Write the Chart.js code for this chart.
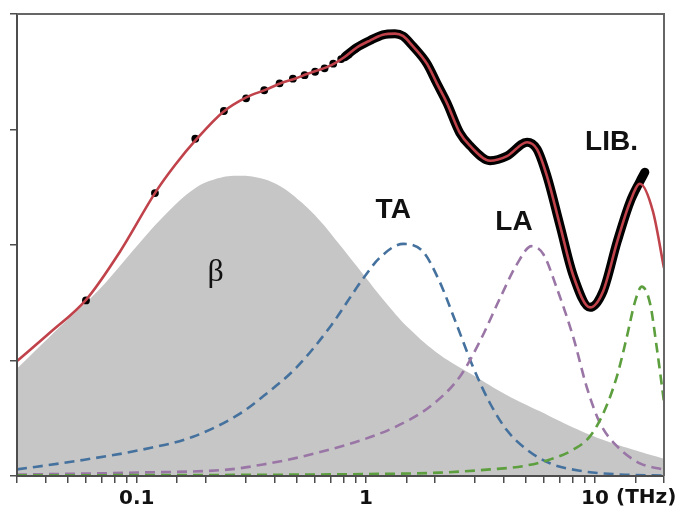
<!DOCTYPE html>
<html>
<head>
<meta charset="utf-8">
<title>Susceptibility spectrum</title>
<script src="https://cdn.jsdelivr.net/npm/chart.js@4/dist/chart.umd.min.js"></script>
<style>
  html, body { margin: 0; padding: 0; background: #fff; }
  canvas { display: block; }
</style>
</head>
<body>
<canvas id="spectrum" width="683" height="515"></canvas>
<script>
// Frequency axis in THz, amplitudes in arbitrary units (0..4)

// beta relaxation (grey area)
const betaFreq   = [0.03, 0.0461, 0.0689, 0.103, 0.139, 0.179, 0.219, 0.273, 0.344, 0.421, 0.515, 0.63, 0.77, 0.97, 1.235, 1.556, 2.10, 2.93, 4.13, 5.75, 8.02, 11.28, 15.7, 20];
const betaValues = [0.93, 1.29, 1.62, 2.02, 2.30, 2.49, 2.57, 2.60, 2.58, 2.51, 2.38, 2.21, 2.00, 1.75, 1.49, 1.27, 1.05, 0.875, 0.70, 0.56, 0.42, 0.30, 0.21, 0.15];

// transverse acoustic band
const taFreq   = [0.03, 0.0545, 0.1065, 0.176, 0.282, 0.356, 0.498, 0.697, 0.973, 1.15, 1.455, 1.78, 2.10, 2.49, 2.94, 3.48, 4.11, 5.03, 6.36, 8.6, 12.44, 20];
const taValues = [0.057, 0.13, 0.23, 0.34, 0.54, 0.69, 0.94, 1.29, 1.71, 1.89, 2.01, 1.94, 1.68, 1.31, 0.94, 0.63, 0.40, 0.23, 0.11, 0.045, 0.015, 0.004];

// longitudinal acoustic band
const laFreq   = [0.03, 0.1, 0.255, 0.356, 0.498, 0.697, 0.973, 1.36, 1.90, 2.57, 3.15, 3.85, 4.55, 5.29, 5.95, 6.8, 8.04, 9.2, 10.5, 12.44, 15.7, 20];
const laValues = [0.012, 0.03, 0.057, 0.10, 0.157, 0.23, 0.315, 0.43, 0.60, 0.86, 1.17, 1.54, 1.83, 1.99, 1.92, 1.63, 1.20, 0.77, 0.46, 0.26, 0.11, 0.055];

// librational band
const libFreq   = [0.03, 0.3, 1.0, 2.10, 3.48, 4.86, 6.36, 8.04, 9.5, 10.87, 12.44, 13.75, 14.95, 16.0, 17.4, 18.6, 20];
const libValues = [0.006, 0.01, 0.017, 0.029, 0.057, 0.086, 0.143, 0.229, 0.343, 0.543, 0.858, 1.20, 1.51, 1.64, 1.49, 1.11, 0.64];

// total fit
const fitFreq   = [0.03, 0.0417, 0.0603, 0.0843, 0.121, 0.1466, 0.183, 0.2374, 0.302, 0.366, 0.430, 0.490, 0.553, 0.611, 0.676, 0.740, 0.81, 0.913, 1.041, 1.186, 1.339, 1.45, 1.605, 1.846, 2.04, 2.257, 2.57, 2.845, 3.48, 4.13, 5.05, 5.58, 6.16, 7.03, 8.02, 9.51, 10.85, 12.5, 14.2, 15.7, 17.9, 20];
const fitValues = [0.995, 1.24, 1.53, 1.94, 2.46, 2.69, 2.92, 3.15, 3.28, 3.345, 3.405, 3.44, 3.48, 3.51, 3.54, 3.58, 3.63, 3.71, 3.77, 3.82, 3.83, 3.81, 3.72, 3.57, 3.40, 3.23, 2.97, 2.86, 2.73, 2.77, 2.89, 2.83, 2.60, 2.17, 1.74, 1.46, 1.60, 2.03, 2.37, 2.53, 2.29, 1.80];

// measured points, low frequency (separate dots)
const dotFreq   = [0.06, 0.12, 0.18, 0.24, 0.30, 0.36, 0.42, 0.48, 0.54, 0.60, 0.66, 0.72, 0.78, 0.84, 0.90];
const dotValues = [1.52, 2.45, 2.92, 3.16, 3.27, 3.34, 3.40, 3.44, 3.47, 3.50, 3.53, 3.57, 3.61, 3.65, 3.70];

// measured points, high frequency (merged into a band)
const bandFreq   = [0.81, 0.913, 1.041, 1.186, 1.339, 1.45, 1.605, 1.846, 2.04, 2.257, 2.57, 2.845, 3.48, 4.13, 5.05, 5.58, 6.16, 7.03, 8.02, 9.51, 10.85, 12.5, 14.2, 15.7, 16.5];
const bandValues = [3.63, 3.71, 3.77, 3.82, 3.83, 3.81, 3.72, 3.57, 3.40, 3.23, 2.97, 2.86, 2.73, 2.77, 2.89, 2.83, 2.60, 2.17, 1.74, 1.46, 1.60, 2.03, 2.37, 2.55, 2.63];

// x tick labels (decades) and peak labels
const decadeLabels = [0.1, 1, 10];
const unitLabel = '(THz)';
const peakLabels = [
  { text: '\u03b2',  x: 0.221, y: 1.76, font: '32px "Liberation Serif"' },
  { text: 'TA',   x: 1.316, y: 2.30, font: 'bold 28px "Liberation Sans"' },
  { text: 'LA',   x: 4.43,  y: 2.20, font: 'bold 28px "Liberation Sans"' },
  { text: 'LIB.', x: 11.8,  y: 2.89, font: 'bold 28px "Liberation Sans"' }
];

const pts = (xs, ys) => xs.map((x, i) => ({ x: x, y: ys[i] }));

const AXIS = '#4d4d4d';
const tickFont = { family: '"DejaVu Sans"', size: 20, weight: 'bold' };

// closes the box on the top and right sides
const framePlugin = {
  id: 'frame',
  afterDraw(chart) {
    const { ctx, chartArea: a } = chart;
    ctx.save();
    ctx.strokeStyle = '#666';
    ctx.lineWidth = 2;
    ctx.beginPath();
    ctx.moveTo(a.left, a.top);
    ctx.lineTo(a.right, a.top);
    ctx.lineTo(a.right, a.bottom);
    ctx.stroke();
    ctx.restore();
  }
};

// peak names and the unit after the last decade label
const labelPlugin = {
  id: 'peakLabels',
  afterDatasetsDraw(chart) {
    const { ctx, scales } = chart;
    ctx.save();
    ctx.fillStyle = '#111';
    ctx.textAlign = 'center';
    ctx.textBaseline = 'middle';
    peakLabels.forEach(l => {
      ctx.font = l.font;
      ctx.fillText(l.text, scales.x.getPixelForValue(l.x), scales.y.getPixelForValue(l.y));
    });
    ctx.font = 'bold 20px "DejaVu Sans"';
    ctx.textAlign = 'left';
    ctx.textBaseline = 'top';
    ctx.fillText(unitLabel, scales.x.getPixelForValue(10) + 21, scales.x.top + 7 + 5);
    ctx.restore();
  }
};

new Chart(document.getElementById('spectrum'), {
  type: 'line',
  data: {
    datasets: [
      {
        label: 'fit',
        data: pts(fitFreq, fitValues),
        borderColor: '#c0424a',
        borderWidth: 2.6,
        pointRadius: 0,
        cubicInterpolationMode: 'monotone'
      },
      {
        label: 'measured',
        data: pts(dotFreq, dotValues),
        showLine: false,
        pointRadius: 3.9,
        pointBackgroundColor: '#000',
        pointBorderWidth: 0
      },
      {
        label: 'measured band',
        data: pts(bandFreq, bandValues),
        borderColor: '#000',
        borderWidth: 9,
        borderCapStyle: 'round',
        borderJoinStyle: 'round',
        pointRadius: 0,
        cubicInterpolationMode: 'monotone'
      },
      {
        label: 'LIB',
        data: pts(libFreq, libValues),
        borderColor: '#5d9f3e',
        borderWidth: 2.6,
        borderDash: [10, 6],
        pointRadius: 0,
        cubicInterpolationMode: 'monotone'
      },
      {
        label: 'LA',
        data: pts(laFreq, laValues),
        borderColor: '#9a76a6',
        borderWidth: 2.6,
        borderDash: [10, 6],
        pointRadius: 0,
        cubicInterpolationMode: 'monotone'
      },
      {
        label: 'TA',
        data: pts(taFreq, taValues),
        borderColor: '#44719d',
        borderWidth: 2.6,
        borderDash: [10, 6],
        pointRadius: 0,
        cubicInterpolationMode: 'monotone'
      },
      {
        label: 'beta',
        data: pts(betaFreq, betaValues),
        borderWidth: 0,
        borderColor: 'rgba(0,0,0,0)',
        backgroundColor: '#c6c6c6',
        fill: 'origin',
        pointRadius: 0,
        tension: 0.4
      }
    ]
  },
  options: {
    responsive: false,
    animation: false,
    events: [],
    layout: { padding: { left: 10, top: 14, right: 19, bottom: 0 } },
    plugins: {
      legend: { display: false },
      tooltip: { enabled: false }
    },
    scales: {
      x: {
        type: 'logarithmic',
        min: 0.03,
        max: 20,
        grid: {
          drawOnChartArea: false,
          drawTicks: true,
          tickLength: 7,
          color: AXIS,
          lineWidth: 1.5
        },
        border: { display: true, color: AXIS, width: 2, z: 1 },
        ticks: {
          autoSkip: false,
          maxRotation: 0,
          padding: 4,
          color: '#111',
          font: tickFont,
          callback: (v) => {
            const n = Number(Number(v).toPrecision(6));
            return decadeLabels.includes(n) ? String(n) : '';
          }
        }
      },
      y: {
        min: 0,
        max: 4,
        grid: {
          drawOnChartArea: false,
          drawTicks: true,
          tickLength: 7,
          color: AXIS,
          lineWidth: 1.5
        },
        border: { display: true, color: AXIS, width: 2, z: 1 },
        ticks: { stepSize: 1, display: false }
      }
    }
  },
  plugins: [framePlugin, labelPlugin]
});
</script>
</body>
</html>
